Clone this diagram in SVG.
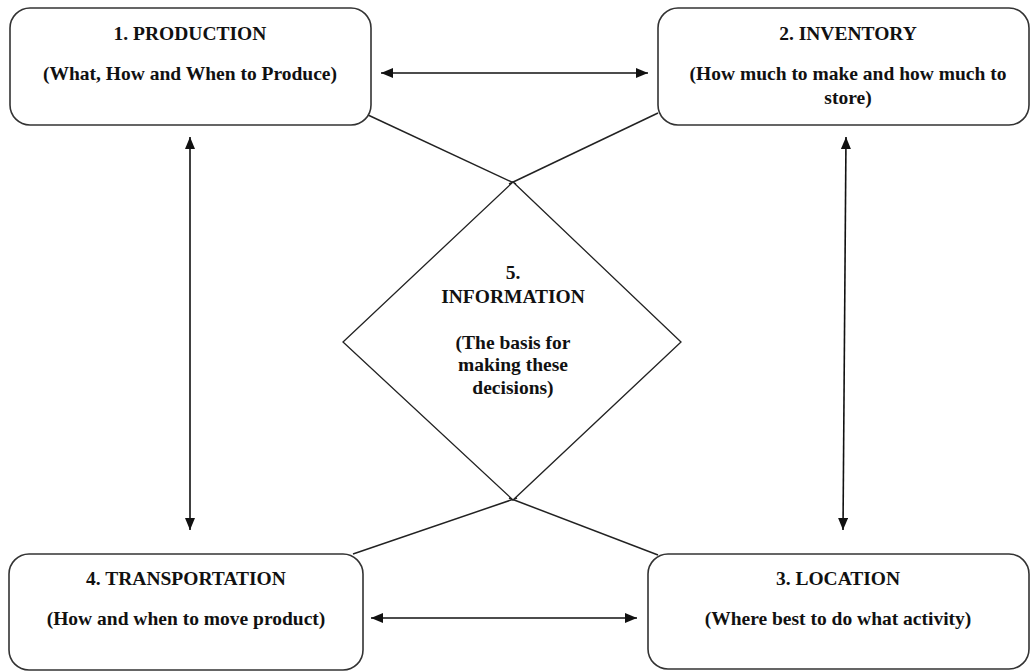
<svg xmlns="http://www.w3.org/2000/svg" width="1030" height="671" viewBox="0 0 1030 671">
<style>
.box{fill:#fff;stroke:#333;stroke-width:1.6}
.dia{fill:#fff;stroke:#222;stroke-width:1.3}
.t{font-family:"Liberation Serif","Times New Roman",serif;font-weight:bold;font-size:19.5px;fill:#111;text-anchor:middle}
.ln{stroke:#222;stroke-width:1.5;fill:none}
.arr{stroke:#111;stroke-width:1.6;fill:none;marker-start:url(#ah);marker-end:url(#ah)}
</style>
<defs>
<marker id="ah" viewBox="0 0 12 10" refX="12" refY="5" markerWidth="12" markerHeight="10" markerUnits="userSpaceOnUse" orient="auto-start-reverse">
<path d="M0,0 L12,5 L0,10 z" fill="#111"/>
</marker>
</defs>
<rect width="1030" height="671" fill="#fff"/>
<g id="connectors">
<line class="ln" x1="368" y1="115" x2="516" y2="184"/>
<line class="ln" x1="658" y1="113" x2="509" y2="184"/>
<line class="ln" x1="517" y1="498" x2="353" y2="554"/>
<line class="ln" x1="509" y1="498" x2="658" y2="555"/>
<line class="arr" x1="381" y1="73" x2="648" y2="73"/>
<line class="arr" x1="190" y1="137" x2="190" y2="530"/>
<line class="arr" x1="846" y1="137" x2="843" y2="530"/>
<line class="arr" x1="371" y1="618" x2="637" y2="618"/>
</g>
<g id="production">
<rect class="box" x="10" y="8" width="361" height="117" rx="20"/>
<text class="t" x="190" y="40">1. PRODUCTION</text>
<text class="t" x="190" y="80">(What, How and When to Produce)</text>
</g>
<g id="inventory">
<rect class="box" x="658" y="8" width="371" height="117" rx="20"/>
<text class="t" x="848" y="40">2. INVENTORY</text>
<text class="t" x="848" y="80">(How much to make and how much to</text>
<text class="t" x="848" y="104">store)</text>
</g>
<g id="location">
<rect class="box" x="648" y="554" width="381" height="115" rx="20"/>
<text class="t" x="838" y="585">3. LOCATION</text>
<text class="t" x="838" y="625">(Where best to do what activity)</text>
</g>
<g id="transportation">
<rect class="box" x="9" y="554" width="354" height="116" rx="20"/>
<text class="t" x="186" y="585">4. TRANSPORTATION</text>
<text class="t" x="186" y="625">(How and when to move product)</text>
</g>
<g id="information">
<polygon class="dia" points="513,182 681,342 513,500 343,342"/>
<text class="t" x="513" y="279">5.</text>
<text class="t" x="513" y="303">INFORMATION</text>
<text class="t" x="513" y="349">(The basis for</text>
<text class="t" x="513" y="371">making these</text>
<text class="t" x="513" y="394">decisions)</text>
</g>
</svg>
